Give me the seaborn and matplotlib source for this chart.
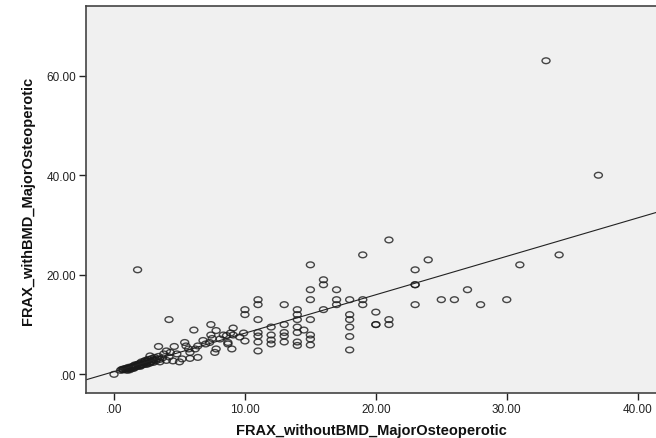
import matplotlib
matplotlib.use("Agg")
import matplotlib.pyplot as plt
from matplotlib.path import Path
from matplotlib.ticker import FuncFormatter, FixedLocator
import numpy as np
import pandas as pd
import seaborn as sns

# --- data ---
frax_without = [
    0.0, 0.5, 0.6, 0.7, 0.8, 0.9, 1.0, 1.0, 1.1, 1.2, 1.3, 1.4, 1.5, 1.5, 1.6, 1.7,
    1.8, 1.9, 2.0, 2.0, 2.1, 2.2, 2.3, 2.4, 2.5, 2.5, 2.6, 2.7, 2.8, 2.9, 3.0, 3.0,
    3.1, 3.2, 3.3, 3.4, 3.5, 3.5, 3.7, 2.75, 3.8, 4.0, 4.2, 4.5, 5.0, 4.8, 5.2, 5.8,
    6.4, 4.0, 4.3, 3.4, 4.6, 5.4, 5.5, 6.2, 5.7, 5.8, 6.4, 7.0, 7.3, 7.7, 7.8, 8.1,
    8.6, 8.7, 4.2, 1.8, 6.1, 7.4, 7.4, 7.8, 8.35, 8.9, 9.1, 9.1, 9.9, 8.7, 9.0, 10.0,
    9.6, 6.8, 7.5,
    0.7, 0.9, 1.1, 1.3, 1.5, 1.7, 1.9, 2.1, 2.3, 2.5, 2.7, 2.9, 3.1, 1.2, 1.6, 2.0, 2.4, 2.8,
    10, 10, 11, 11, 11, 11, 11, 11, 11, 12, 12, 12, 12, 13, 13, 13, 13, 13,
    14, 14, 14, 14, 14, 14, 14, 14.5, 15, 15, 15, 15, 15, 15, 15, 16, 16, 16,
    17, 17, 17, 18, 18, 18, 18, 18, 18, 19, 19, 19, 20, 20, 20, 21, 21, 21,
    23, 23, 23, 23, 24, 25, 26, 27, 28, 30, 31, 33, 34, 37,
]
frax_with = [
    0.0, 0.8, 1.0, 0.9, 1.1, 1.0, 1.2, 0.8, 1.4, 1.1, 1.5, 1.3, 1.7, 1.2, 1.9, 1.5,
    2.0, 1.7, 2.2, 1.6, 2.5, 1.9, 2.3, 2.8, 2.0, 2.6, 3.0, 2.2, 2.6, 3.2, 2.4, 2.9,
    3.4, 2.7, 3.1, 3.6, 2.5, 3.0, 3.3, 3.7, 4.1, 2.8, 3.5, 2.7, 2.5, 4.1, 3.1, 3.2,
    3.4, 4.7, 4.4, 5.6, 5.6, 6.4, 5.7, 5.1, 5.1, 4.4, 5.7, 6.1, 6.4, 4.4, 5.1, 7.1,
    7.8, 6.4, 11.0, 21.0, 8.9, 10.0, 7.9, 8.8, 7.9, 8.3, 9.3, 7.9, 8.3, 6.1, 5.1, 6.7,
    7.5, 6.8, 7.2,
    1.0, 1.2, 1.1, 1.4, 1.3, 1.8, 2.1, 1.9, 2.6, 2.3, 2.9, 2.6, 3.0, 0.9, 1.6, 1.8, 2.1, 2.4,
    13, 12, 15, 14, 11, 8.4, 7.7, 4.7, 6.5, 9.5, 7.9, 6.9, 6.1, 14, 10, 8.4, 7.7, 6.5,
    13, 12, 11, 9.5, 8.4, 6.5, 5.8, 8.9, 22, 17, 15, 11, 7.9, 7.1, 5.9, 19, 18, 13,
    17, 15, 14, 15, 12, 11, 9.5, 7.6, 4.9, 24, 15, 14, 12.5, 10, 10, 27, 11, 10,
    21, 18, 18, 14, 23, 15, 15, 17, 14, 15, 22, 63, 24, 40,
]
y_ticks = [0, 20, 40, 60]
x_ticks = [0, 10, 20, 30, 40]
x_label = "FRAX_withoutBMD_MajorOsteoperotic"
y_label = "FRAX_withBMD_MajorOsteoperotic"

df = pd.DataFrame({x_label: frax_without, y_label: frax_with})

sns.set_style("white")
plt.rcParams["font.family"] = ["Liberation Sans", "DejaVu Sans"]

fig = plt.figure(figsize=(6.56, 4.39), dpi=100)
ax = fig.add_axes([86 / 656, 1 - 394 / 439, 1.0 - 86 / 656, (394 - 7) / 439])
ax.set_facecolor("#f0f0f0")
ax.set_xlim(-2.14, 41.4)
ax.set_ylim(-3.75, 74.0)

circ = Path.unit_circle()
ell = Path(circ.vertices * np.array([1.0, 0.72]), circ.codes)

sns.regplot(
    data=df, x=x_label, y=y_label, ax=ax, ci=None, truncate=False,
    marker=ell,
    scatter_kws=dict(s=33, facecolors="none", edgecolors="#1a1a1a", linewidths=1.0),
    line_kws=dict(color="#222222", lw=0.8),
)

ax.set_xlim(-2.14, 41.4)
ax.set_ylim(-3.75, 74.0)

fmt = FuncFormatter(lambda v, p: ".00" if abs(v) < 1e-9 else f"{v:.2f}")
ax.xaxis.set_major_locator(FixedLocator(x_ticks))
ax.yaxis.set_major_locator(FixedLocator(y_ticks))
ax.xaxis.set_major_formatter(fmt)
ax.yaxis.set_major_formatter(fmt)

for s in ["left", "bottom", "top"]:
    ax.spines[s].set_color("#444444")
    ax.spines[s].set_linewidth(1.2)
ax.spines["right"].set_visible(False)

ax.tick_params(axis="both", direction="out", length=5, width=1, color="#222222",
               labelsize=8.5, labelcolor="#222222", pad=2,
               left=True, bottom=True)

ax.set_xlabel(x_label, fontsize=10.5, fontweight="bold", color="#111111", labelpad=6)
ax.set_ylabel(y_label, fontsize=10.5, fontweight="bold", color="#111111", labelpad=8)

fig.savefig("out.png", dpi=100, facecolor="white")
